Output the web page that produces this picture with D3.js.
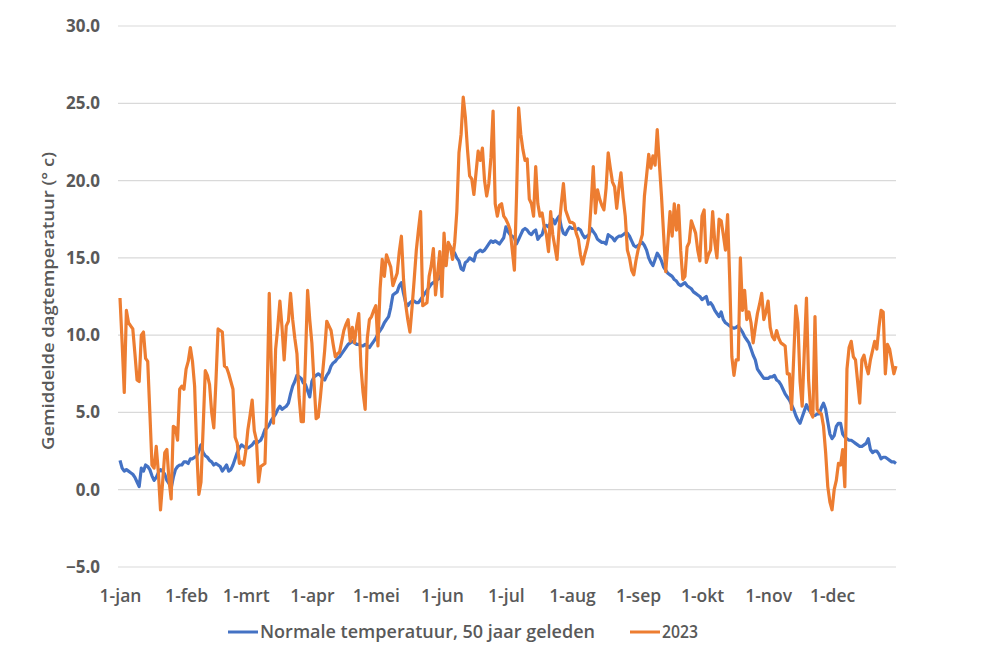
<!DOCTYPE html>
<html>
<head>
<meta charset="utf-8">
<script src="https://cdn.jsdelivr.net/npm/d3@7"></script>
<style>
  html, body { margin: 0; padding: 0; background: #ffffff; }
  svg { display: block; }
</style>
</head>
<body>
<svg id="chart" width="1000" height="663"></svg>
<script>
// ---------- DATA ----------
const year = 2023;
const monthLabels = ["1-jan","1-feb","1-mrt","1-apr","1-mei","1-jun","1-jul","1-aug","1-sep","1-okt","1-nov","1-dec"];
const yTicks = [-5, 0, 5, 10, 15, 20, 25, 30];
const seriesNames = ["Normale temperatuur, 50 jaar geleden", "2023"];
const yTitle = "Gemiddelde dagtemperatuur (° c)";

// daily mean temperature, normal (50 years ago), 1 Jan .. 31 Dec
const normalTemps = [
1.9,1.4,1.2,1.3,1.2,1.1,1.0,0.8,0.5,0.2,
1.4,1.2,1.6,1.5,1.3,0.9,0.6,0.8,1.1,1.3,
1.2,1.0,0.6,0.4,0.1,0.8,1.3,1.5,1.6,1.6,
1.8,1.8,1.7,2.0,2.0,2.1,2.2,2.5,2.9,2.4,
2.2,2.1,1.9,1.8,1.6,1.7,1.6,1.5,1.2,1.4,
1.6,1.2,1.3,1.6,2.0,2.4,2.7,2.9,2.8,2.7,
2.7,2.8,2.9,3.1,3.0,3.1,3.2,3.5,3.9,4.0,
4.2,4.5,4.7,4.9,5.2,5.4,5.2,5.3,5.4,5.6,
6.2,6.7,7.0,7.4,7.3,7.2,6.9,6.8,6.4,6.0,
7.0,7.3,7.4,7.5,7.4,7.2,7.1,7.4,7.6,8.0,
8.2,8.3,8.5,8.6,8.8,9.0,9.2,9.4,9.5,9.6,
9.5,9.4,9.4,9.3,9.3,9.4,9.3,9.2,9.4,9.6,
9.8,10.1,10.3,10.5,10.8,11.0,11.2,11.8,12.6,12.7,
12.8,13.2,13.4,12.7,12.1,11.9,12.1,12.2,12.2,12.1,
12.1,12.3,12.5,12.7,12.9,13.1,13.3,13.4,13.5,13.6,
13.7,14.1,14.8,15.4,15.6,15.7,15.5,15.3,15.0,14.8,
14.3,14.2,14.7,14.8,15.0,14.9,14.8,15.3,15.4,15.5,
15.4,15.5,15.7,15.9,16.1,16.0,16.1,16.0,15.9,16.1,
16.3,17.0,16.7,16.5,16.4,16.3,15.9,16.2,16.5,16.8,
16.9,16.8,16.6,16.5,16.7,16.8,16.2,16.4,16.5,17.0,
17.1,17.0,17.3,17.5,17.2,17.5,17.7,17.0,16.6,16.5,
16.8,17.0,16.9,16.9,16.8,16.9,16.8,16.5,16.3,16.4,
16.5,16.9,16.7,16.5,16.2,16.1,16.0,16.0,15.9,16.5,
16.4,16.3,16.1,16.3,16.4,16.4,16.5,16.6,16.6,16.4,
16.1,15.8,15.7,15.8,15.9,16.0,15.8,15.5,15.0,14.7,
14.5,14.9,15.3,15.1,14.8,14.4,14.2,14.0,13.9,13.8,
13.6,13.5,13.3,13.2,13.3,13.4,13.2,13.1,13.0,12.8,
12.7,12.6,12.5,12.3,12.4,12.5,12.0,12.1,11.9,11.6,
11.4,11.2,11.5,11.0,10.8,10.7,10.6,10.5,10.45,10.5,
10.6,10.4,10.2,9.9,9.7,9.5,9.1,8.7,8.4,7.8,
7.6,7.4,7.2,7.2,7.2,7.3,7.3,7.4,7.1,7.0,
6.8,6.5,6.2,6.0,5.8,5.5,5.2,4.8,4.5,4.3,
4.7,5.1,5.5,5.2,5.0,4.8,4.8,4.9,4.9,5.3,
5.6,5.2,4.4,3.6,3.3,3.5,4.1,4.3,4.3,3.6,
3.4,3.3,3.2,3.2,3.1,3.0,2.9,2.8,2.8,2.9,
3.0,3.3,2.6,2.4,2.5,2.5,2.3,2.0,2.1,2.1,
2.0,1.9,1.8,1.8,1.7
];

// daily mean temperature 2023, 1 Jan .. 31 Dec
const temps2023 = [
12.4,9.5,6.3,11.6,10.8,10.6,10.4,8.8,7.1,7.0,
10.0,10.2,8.5,8.3,5.0,1.6,1.4,2.8,1.1,-1.3,
0.5,2.4,2.6,0.6,-0.6,4.1,4.0,3.2,6.5,6.7,
6.5,7.8,8.3,9.2,8.3,6.7,2.5,-0.3,0.5,4.0,
7.7,7.4,6.8,5.0,4.0,7.0,10.4,10.3,10.2,8.0,
7.9,7.5,7.0,6.5,3.4,3.0,1.7,1.8,1.6,2.5,
3.9,4.8,5.8,3.8,3.2,0.5,1.5,1.6,1.7,6.0,
12.7,8.0,4.3,9.1,10.5,12.2,10.5,8.4,10.6,10.9,
12.7,11.0,9.8,8.8,6.0,4.4,4.4,8.5,12.9,11.0,
9.5,7.0,4.6,4.7,6.0,7.5,9.0,10.9,10.6,10.3,
9.4,8.6,8.8,8.9,9.6,10.3,10.7,11.0,9.6,10.5,
9.5,10.6,11.4,8.0,6.3,5.2,9.8,11.0,11.2,11.6,
11.9,9.3,13.0,14.9,13.8,15.2,14.8,14.4,13.2,13.6,
14.0,15.4,16.4,13.6,12.0,11.0,10.2,11.8,13.6,15.5,
16.8,18.0,11.9,12.0,12.1,13.8,14.5,15.6,12.6,14.0,
15.4,12.5,16.6,14.5,16.0,15.7,14.9,16.0,18.0,21.8,
23.0,25.4,24.1,22.0,20.3,20.1,19.1,20.5,21.9,21.3,
22.1,20.0,19.0,19.8,21.5,24.5,18.5,17.7,18.4,18.5,
17.7,17.5,17.2,16.8,15.5,14.2,19.0,24.7,23.0,22.0,
21.3,21.4,18.8,18.5,17.7,20.9,18.5,17.7,17.9,17.0,
16.5,15.4,18.0,16.5,15.7,14.9,17.0,18.5,19.8,18.1,
17.7,17.3,17.3,17.2,16.6,16.2,15.2,14.6,15.2,15.7,
16.4,18.5,20.9,17.9,19.4,18.8,18.4,18.1,19.5,21.8,
20.8,19.9,19.6,18.2,19.5,20.5,18.9,17.7,15.5,15.0,
14.2,13.9,14.8,15.5,16.0,16.5,19.0,20.3,21.7,20.8,
21.6,21.0,23.3,21.1,19.0,16.5,14.1,16.0,18.0,16.4,
18.5,16.8,18.4,15.5,13.6,13.8,15.7,16.0,17.4,17.0,
16.6,15.5,14.8,17.7,18.1,14.7,15.2,15.5,18.0,16.0,
15.0,17.5,17.4,16.5,15.5,17.8,13.6,8.6,7.4,8.4,
8.4,15.0,11.6,12.9,11.0,11.5,10.8,9.5,10.5,11.4,
12.0,12.7,11.0,11.5,12.2,10.5,9.9,9.7,10.3,9.8,
9.5,9.4,9.3,7.5,7.5,5.2,8.5,11.9,10.8,7.0,
5.4,9.0,12.4,7.1,5.0,4.7,11.2,5.2,5.0,4.9,
4.1,2.4,0.2,-0.8,-1.3,0.0,0.6,1.7,1.6,2.6,
0.2,7.8,9.2,9.6,8.6,8.4,7.0,5.6,8.4,8.7,
8.0,7.5,8.4,9.0,9.6,9.1,10.5,11.6,11.5,7.5,
9.4,9.1,8.3,7.5,8.0
];

// ---------- CHART ----------
const svg = d3.select("#chart");
const plot = { left: 120, right: 896, top: 26, bottom: 567 };
const gridLeft = 118, gridRight = 896;

const start = new Date(year, 0, 1);
const end = new Date(year, 11, 31);
const days = d3.timeDay.range(start, d3.timeDay.offset(end, 1));

const x = d3.scaleTime().domain([start, end]).range([plot.left, plot.right]);
const y = d3.scaleLinear().domain([-5, 30]).range([plot.bottom, plot.top]);

const textColor = "#595959";
const fontFam = "'Open Sans', 'Liberation Sans', Arial, sans-serif";

// gridlines
svg.append("g")
  .selectAll("line")
  .data(yTicks)
  .join("line")
  .attr("x1", gridLeft).attr("x2", gridRight)
  .attr("y1", d => y(d)).attr("y2", d => y(d))
  .attr("stroke", "#d9d9d9").attr("stroke-width", 1.2);

// y axis labels
const yAxis = d3.axisLeft(y).tickValues(yTicks).tickFormat(d3.format(".1f")).tickSize(0).tickPadding(0);
const gy = svg.append("g").attr("transform", `translate(${plot.left - 20},0)`).call(yAxis);
gy.select(".domain").remove();
gy.selectAll("text")
  .attr("fill", textColor)
  .style("font-family", fontFam)
  .style("font-size", "17px")
  .style("font-weight", "700");

// x axis labels
const monthStarts = d3.timeMonth.range(start, d3.timeDay.offset(end, 1));
const xAxis = d3.axisBottom(x).tickValues(monthStarts).tickFormat((d, i) => monthLabels[i]).tickSize(0).tickPadding(0);
const gx = svg.append("g").attr("transform", `translate(0,${plot.bottom + 23})`).call(xAxis);
gx.select(".domain").remove();
gx.selectAll("text")
  .attr("fill", textColor)
  .attr("dy", "0.7em")
  .style("font-family", fontFam)
  .style("font-size", "17.5px")
  .style("font-weight", "600");

// y title
svg.append("text")
  .attr("transform", `translate(54,301) rotate(-90)`)
  .attr("text-anchor", "middle")
  .attr("fill", textColor)
  .attr("textLength", 298)
  .attr("lengthAdjust", "spacingAndGlyphs")
  .style("font-family", fontFam)
  .style("font-size", "17px")
  .style("font-weight", "600")
  .text(yTitle);

// lines
const line = d3.line()
  .x((d, i) => x(days[i]))
  .y(d => y(d));

svg.append("path")
  .datum(normalTemps)
  .attr("fill", "none")
  .attr("stroke", "#4472C4")
  .attr("stroke-width", 3.2)
  .attr("stroke-linejoin", "round")
  .attr("d", line);

svg.append("path")
  .datum(temps2023)
  .attr("fill", "none")
  .attr("stroke", "#ED7D31")
  .attr("stroke-width", 3.2)
  .attr("stroke-linejoin", "round")
  .attr("d", line);

// legend
const legendColors = ["#4472C4", "#ED7D31"];
const legendX = [228, 630];
const legendTextLen = [335, 36];
const legendY = 632;
const lg = svg.append("g");
seriesNames.forEach((name, i) => {
  lg.append("line")
    .attr("x1", legendX[i]).attr("x2", legendX[i] + 30)
    .attr("y1", legendY).attr("y2", legendY)
    .attr("stroke", legendColors[i]).attr("stroke-width", 3);
  lg.append("text")
    .attr("x", legendX[i] + 32)
    .attr("y", legendY)
    .attr("dy", "0.35em")
    .attr("fill", textColor)
    .attr("textLength", legendTextLen[i])
    .attr("lengthAdjust", "spacingAndGlyphs")
    .style("font-family", fontFam)
    .style("font-size", "17.5px")
    .style("font-weight", "600")
    .text(name);
});
</script>
</body>
</html>
